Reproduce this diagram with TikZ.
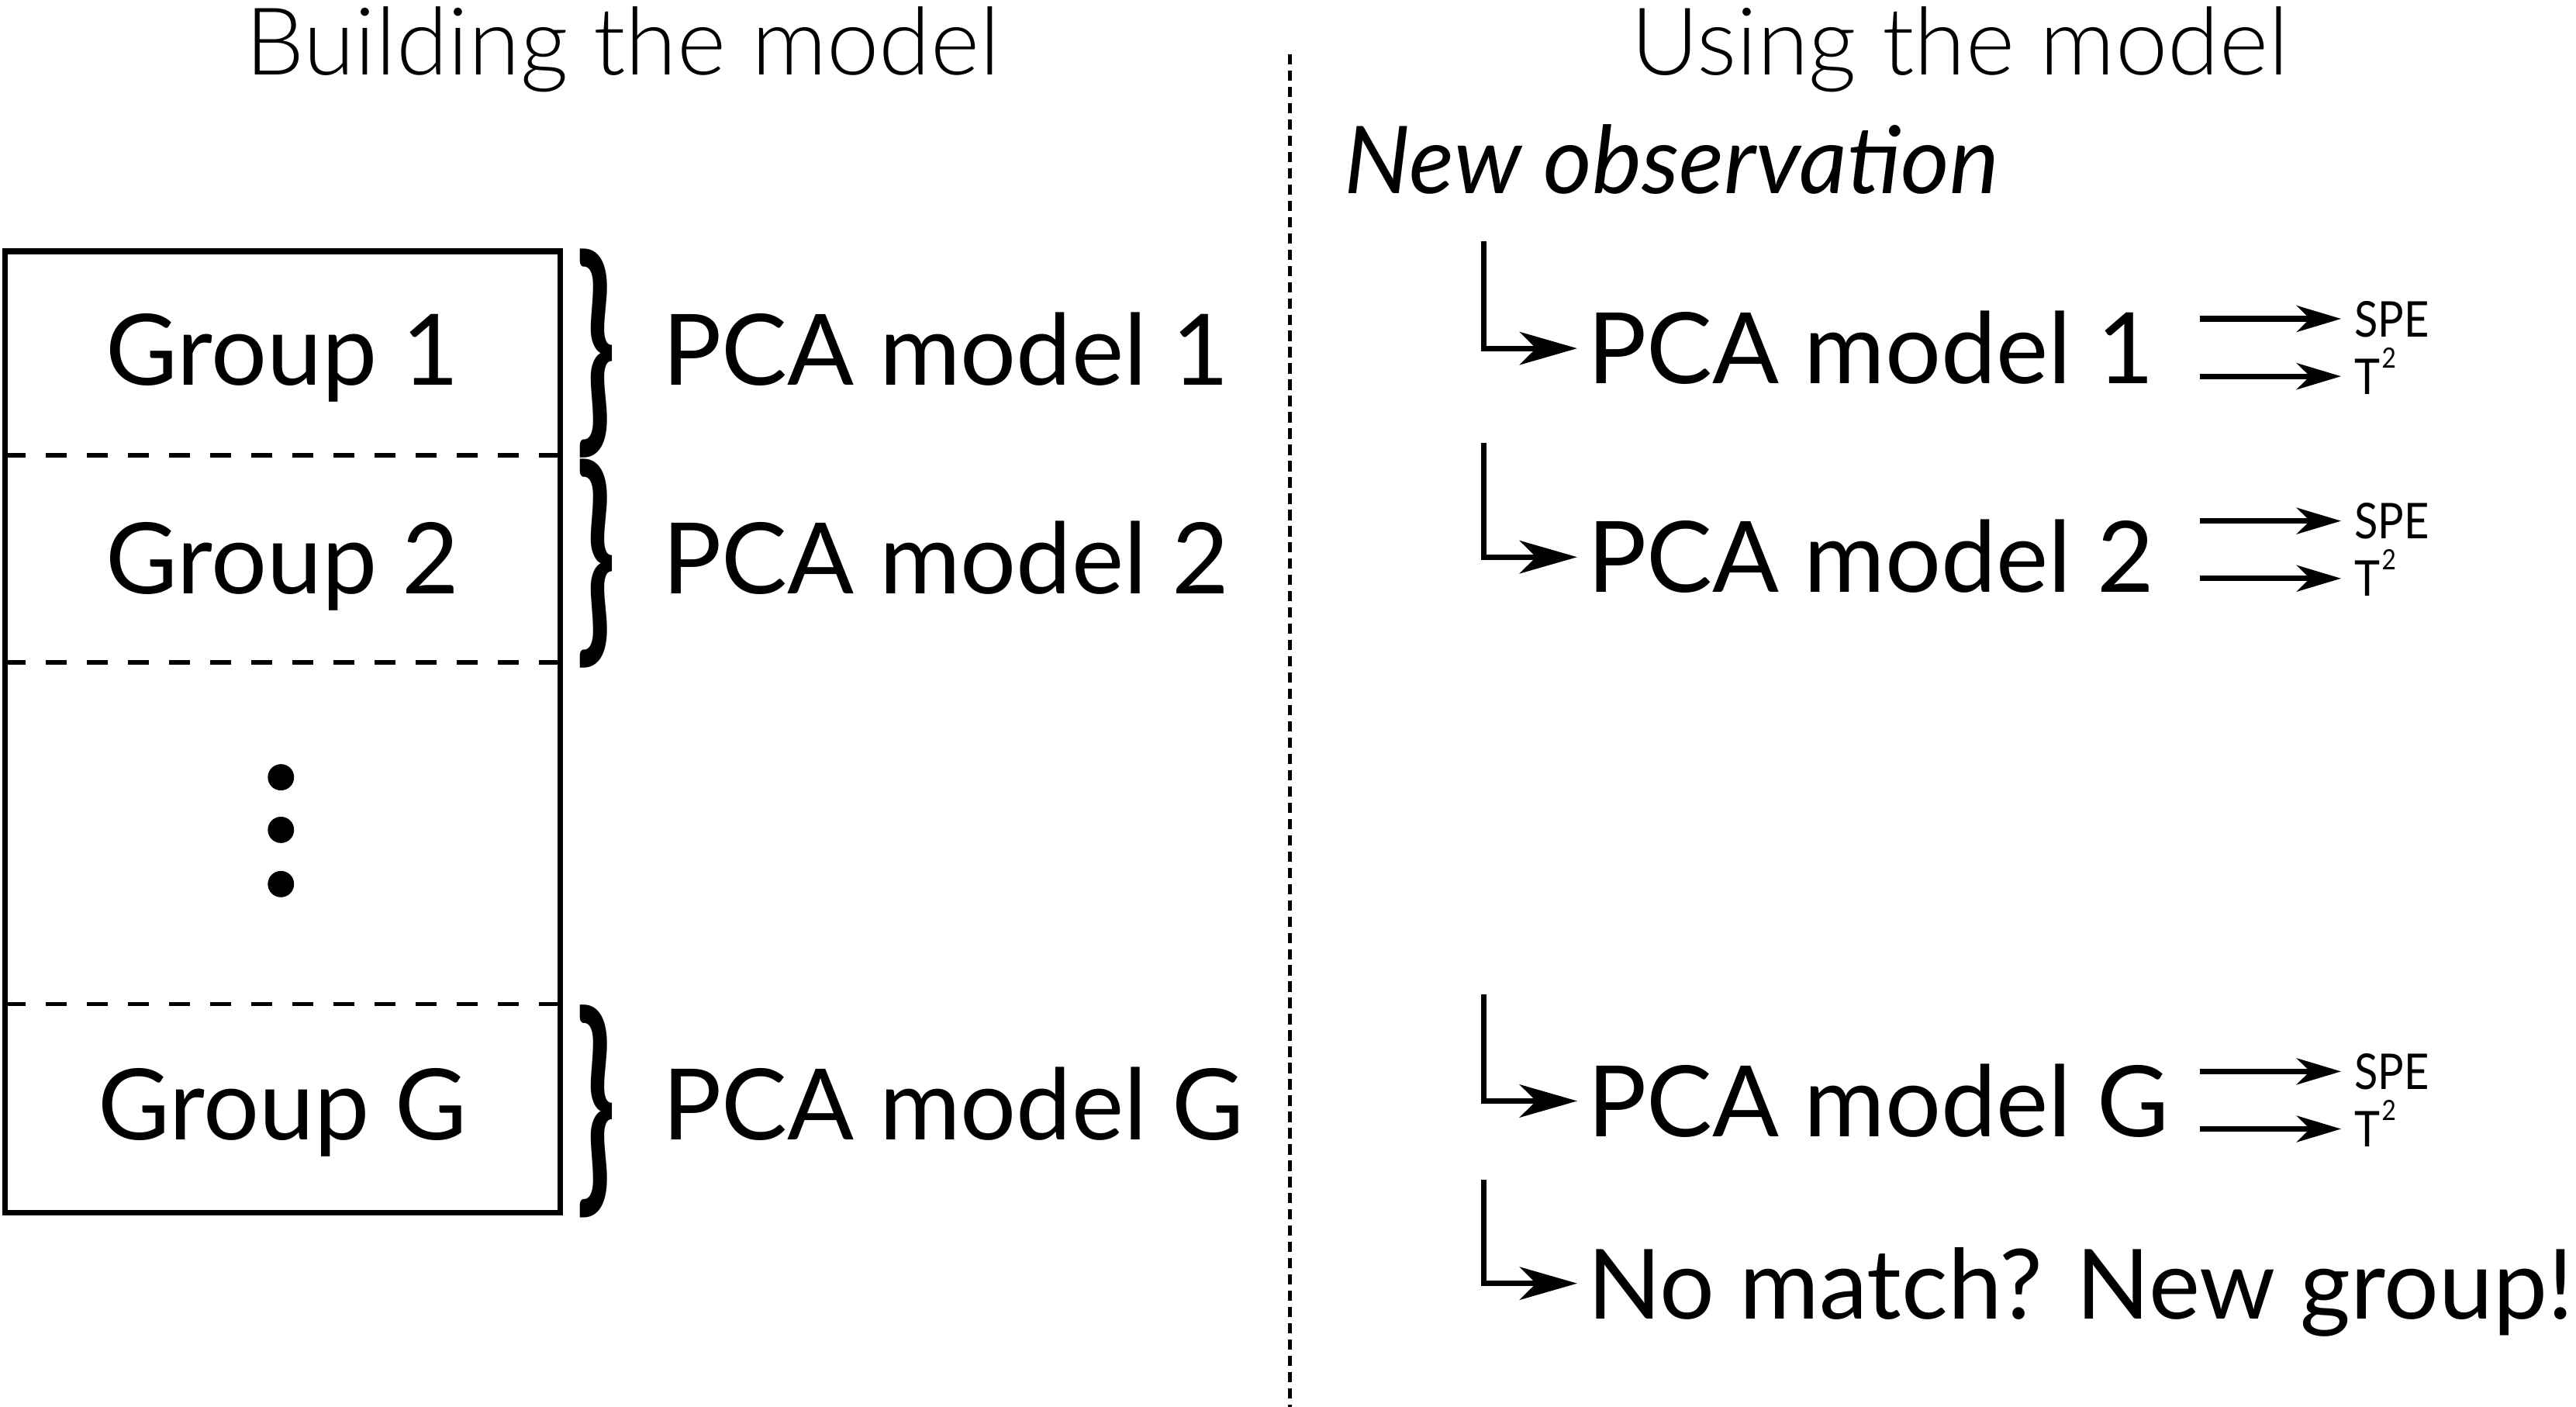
\documentclass[tikz,border=0pt]{standalone}
\usepackage{fontspec}
\setmainfont{Lato}
\IfFontExistsTF{Lato Light}{\newfontfamily\hdrfont{Lato Light}}{\newfontfamily\hdrfont{Lato}}
\newfontfamily\narrowfont[FakeStretch=0.88]{Lato}
\usetikzlibrary{arrows.meta}
\newcommand\bigsz{\fontsize{60}{70}\selectfont}
\newcommand\smsz{\fontsize{30}{34}\selectfont}
\begin{document}
\begin{tikzpicture}[x=1pt,y=-1pt,
  lbl/.style={font=\bigsz, inner sep=0pt, text height=43pt, text depth=0pt},
  hdr/.style={font=\hdrfont\fontsize{57}{66}\selectfont, inner sep=0pt, text height=40.8pt, text depth=0pt},
  sml/.style={font=\narrowfont\smsz, inner sep=0pt, text height=21.7pt, text depth=0pt, anchor=west},
  boxline/.style={line width=3.6pt},
  sepline/.style={line width=2.6pt, dash pattern=on 12.6pt off 12.4pt},
  divider/.style={line width=2.4pt, dash pattern=on 6.3pt off 3.6pt},
  elbow/.style={line width=3.4pt, -{Stealth[length=35pt,width=20pt,inset=10pt]}, shorten >=6pt},
  outarrow/.style={line width=3.4pt, -{Stealth[length=27pt,width=16pt,inset=8pt]}, shorten >=8pt},
  brc/.style={inner sep=0pt},
  dot/.style={circle, fill, inner sep=0pt, minimum size=16pt},
]
\useasboundingbox (0,0) rectangle (1568,856);
% headers
\node[hdr] (hb) at (379,25) {Building the model};
\node[hdr] (hu) at (1193,25) {Using the model};
\draw[divider] (785,33) -- (785,856);
% left box
\draw[boxline] (3,153) rectangle (341,738);
\draw[sepline] (3,277) -- (341,277);
\draw[sepline] (3,403) -- (341,403);
\draw[sepline] (3,611) -- (341,611);
\node[lbl] (g1) at (172,213) {Group 1};
\node[lbl] (g2) at (172,340) {Group 2};
\node[lbl] (gG) at (172,672) {Group G};
\node[dot] (d1) at (171,473) {};
\node[dot] (d2) at (171,505) {};
\node[dot] (d3) at (171,538) {};
% braces
\node[brc] (b1) at (363,215) {\resizebox{24pt}{106pt}{\bigsz\bfseries\}}};
\node[brc] (b2) at (363,343) {\resizebox{24pt}{106pt}{\bigsz\bfseries\}}};
\node[brc] (bG) at (363,676.5) {\resizebox{24pt}{108pt}{\bigsz\bfseries\}}};
\node[lbl, anchor=west] (p1) at (403,213) {PCA model 1};
\node[lbl, anchor=west] (p2) at (403,340) {PCA model 2};
\node[lbl, anchor=west] (pG) at (403,672) {PCA model G};
% right side
\node[lbl, anchor=west, font=\itshape\fontsize{57}{66}\selectfont] (obs) at (818,96.5) {New observation};
\node[lbl, anchor=west] (q1) at (966,212) {PCA model 1};
\node[lbl, anchor=west] (q2) at (966,339) {PCA model 2};
\node[lbl, anchor=west] (qG) at (966,670) {PCA model G};
\node[lbl, anchor=west, font=\fontsize{59}{68}\selectfont] (qN) at (966,781) {No match? New group!};
\coordinate (e1) at (903,147);
\coordinate (e2) at (903,269.5);
\coordinate (eG) at (903,605);
\coordinate (eN) at (903,718);
\draw[elbow] (e1) |- (q1.west);
\draw[elbow] (e2) |- (q2.west);
\draw[elbow] (eG) |- (qG.west);
\draw[elbow] (eN) |- (qN.west);
% outputs
\newcommand\Tsq{T\kern1pt\raisebox{16pt}{\fontsize{17}{17}\selectfont 2}}
\node[sml] (s1) at (1433,194) {SPE};
\node[sml] (t1) at (1433,229) {\Tsq};
\node[sml] (s2) at (1433,317) {SPE};
\node[sml] (t2) at (1433,352) {\Tsq};
\node[sml] (sG) at (1433,652) {SPE};
\node[sml] (tG) at (1433,687) {\Tsq};
\coordinate (s1o) at (1339,194);
\coordinate (t1o) at (1339,229);
\coordinate (s2o) at (1339,317);
\coordinate (t2o) at (1339,352);
\coordinate (sGo) at (1339,652);
\coordinate (tGo) at (1339,687);
\draw[outarrow] (s1o) -- (s1.west);
\draw[outarrow] (t1o) -- (t1.west);
\draw[outarrow] (s2o) -- (s2.west);
\draw[outarrow] (t2o) -- (t2.west);
\draw[outarrow] (sGo) -- (sG.west);
\draw[outarrow] (tGo) -- (tG.west);
\end{tikzpicture}
\end{document}
